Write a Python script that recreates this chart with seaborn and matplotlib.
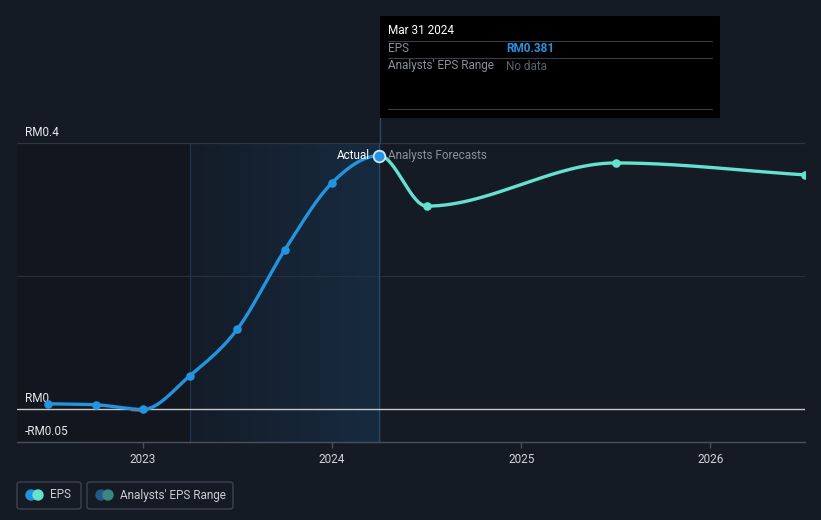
import numpy as np
import pandas as pd
import matplotlib
matplotlib.use("Agg")
import matplotlib.pyplot as plt
from matplotlib.patches import Rectangle, FancyBboxPatch, Ellipse
from matplotlib.lines import Line2D
from matplotlib.colors import LinearSegmentedColormap
import seaborn as sns

# ---------------- data ----------------
actual_dates = [2022.5, 2022.75, 2023.0, 2023.25, 2023.5, 2023.75, 2024.0, 2024.25]
actual_eps = [0.0075, 0.006, -0.001, 0.050, 0.120, 0.239, 0.340, 0.381]
forecast_dates = [2024.25, 2024.5, 2025.5, 2026.5]
forecast_eps = [0.381, 0.305, 0.370, 0.352]
year_ticks = [2023, 2024, 2025, 2026]
year_labels = ["2023", "2024", "2025", "2026"]
y_ticks = [0.4, 0.0, -0.05]
y_labels = ["RM0.4", "RM0", "-RM0.05"]

BG = "#151b25"
BLUE = "#2394df"
TEAL = "#64e1cf"

sns.set_style("dark")
plt.rcParams["font.family"] = ["Roboto", "DejaVu Sans"]


def monotone(x, y, n=60):
    """Monotone cubic (d3 curveMonotoneX style) path through the points."""
    x = np.asarray(x, float)
    y = np.asarray(y, float)
    h = np.diff(x)
    d = np.diff(y) / h
    m = np.zeros_like(y)
    m[0], m[-1] = d[0], d[-1]
    for i in range(1, len(y) - 1):
        s0, s1 = d[i - 1], d[i]
        p = (s0 * h[i] + s1 * h[i - 1]) / (h[i - 1] + h[i])
        m[i] = (np.sign(s0) + np.sign(s1)) * min(abs(s0), abs(s1), 0.5 * abs(p))
    xs, ys = [], []
    for i in range(len(h)):
        t = np.linspace(0, 1, n, endpoint=(i == len(h) - 1))
        h00 = 2 * t**3 - 3 * t**2 + 1
        h10 = t**3 - 2 * t**2 + t
        h01 = -2 * t**3 + 3 * t**2
        h11 = t**3 - t**2
        xs.append(x[i] + t * h[i])
        ys.append(h00 * y[i] + h10 * h[i] * m[i] + h01 * y[i + 1] + h11 * h[i] * m[i + 1])
    return np.concatenate(xs), np.concatenate(ys)


W, H = 821, 520
fig = plt.figure(figsize=(W / 100, H / 100), dpi=100)
fig.patch.set_facecolor(BG)

x0, x1 = 17, 805
ytop, ybot = 143, 442
ax = fig.add_axes([x0 / W, (H - ybot) / H, (x1 - x0) / W, (ybot - ytop) / H])
ax.set_facecolor(BG)
xmin, xmax = 2022.335, 2026.5
for s in ax.spines.values():
    s.set_visible(False)

# past region and highlight band
ax.axvspan(xmin, actual_dates[3], color="#12161e", zorder=0, lw=0)
grad = np.linspace(0, 1, 256).reshape(1, -1)
cmap = LinearSegmentedColormap.from_list("band", ["#141c28", "#172b40"])
ax.imshow(grad, extent=[actual_dates[3], actual_dates[-1], -0.05, 0.4],
          aspect="auto", cmap=cmap, zorder=0.5)
ax.axvline(actual_dates[3], color="#1f3a58", lw=0.8, zorder=0.6)
ax.set_xlim(xmin, xmax)
ax.set_ylim(-0.05, 0.4)

# grid
ax.axhline(0.4, color="#2e3440", lw=0.9, zorder=1)
ax.axhline(0.2, color="#2a303b", lw=0.8, zorder=1)
ax.axhline(0.0, color="#c8c8c8", lw=1.0, zorder=1.5)
ax.axhline(-0.05, color="#4a505c", lw=1.0, zorder=1, clip_on=False)

# hover line
ax.axvline(actual_dates[-1], color="#2a4866", lw=1.0, zorder=1.2)
fig.add_artist(Line2D([380 / W, 380 / W], [(H - 143) / H, (H - 118) / H],
                      color="#2a4866", lw=1.0))

# curves (one continuous smooth path, split at the last actual point)
all_x = actual_dates + forecast_dates[1:]
all_y = actual_eps + forecast_eps[1:]
cx, cy = monotone(all_x, all_y)
split = actual_dates[-1]
ma = cx <= split + 1e-9
mf = cx >= split - 1e-9
df_a = pd.DataFrame({"date": cx[ma], "eps": cy[ma]})
df_f = pd.DataFrame({"date": cx[mf], "eps": cy[mf]})
neg = np.where(cy[ma] < 0, cy[ma] - 0.0022, np.nan)
ax.plot(cx[ma], neg, color="#e0353b", lw=1.4, zorder=2.9, solid_capstyle="butt")
sns.lineplot(data=df_a, x="date", y="eps", ax=ax, color=BLUE, lw=2.4, zorder=3,
             sort=False, estimator=None)
sns.lineplot(data=df_f, x="date", y="eps", ax=ax, color=TEAL, lw=2.4, zorder=3,
             sort=False, estimator=None)
pa = pd.DataFrame({"date": actual_dates[:-1], "eps": actual_eps[:-1]})
pf = pd.DataFrame({"date": forecast_dates[1:], "eps": forecast_eps[1:]})
sns.scatterplot(data=pa, x="date", y="eps", ax=ax, color=BLUE, s=38, lw=0, zorder=4)
sns.scatterplot(data=pf, x="date", y="eps", ax=ax, color=TEAL, s=38, lw=0, zorder=4)
ax.scatter([actual_dates[-1]], [actual_eps[-1]], s=70, color=BLUE,
           edgecolor="#cfe6f7", lw=1.3, zorder=5)

ax.annotate("Actual", (actual_dates[-1], actual_eps[-1]), xytext=(-7, 0),
            textcoords="offset points", ha="right", va="center",
            color="#ffffff", fontsize=8.5, zorder=6)
ax.annotate("Analysts Forecasts", (actual_dates[-1], actual_eps[-1]), xytext=(6, 0),
            textcoords="offset points", ha="left", va="center",
            color="#8a9099", fontsize=8.5, zorder=6)

# y labels
for v, lab in zip(y_ticks, y_labels):
    ax.annotate(lab, (0.01, v), xycoords=("axes fraction", "data"), xytext=(0, 3),
                textcoords="offset points", ha="left", va="bottom",
                color="#e6e8eb", fontsize=8.5, annotation_clip=False)

ax.set_yticks([])
ax.set_xticks(year_ticks)
ax.set_xticklabels(year_labels)
ax.tick_params(axis="x", colors="#4a505c", length=4, width=1, labelcolor="#d0d3d8",
               labelsize=8.5, pad=4, bottom=True)
ax.set_xlabel("")
ax.set_ylabel("")
ax.grid(False)
leg = ax.get_legend()
if leg:
    leg.remove()

# tooltip
fig.add_artist(Rectangle((380 / W, (H - 118) / H), 340 / W, 102 / H,
                         facecolor="#000000", edgecolor="none"))
fig.text(388 / W, (H - 31) / H, "Mar 31 2024", color="#ffffff", fontsize=8.5, va="center")
for yy in [41, 58, 109]:
    fig.add_artist(Line2D([388 / W, 712 / W], [(H - yy) / H] * 2, color="#3a3d44", lw=0.8))
fig.text(388 / W, (H - 49) / H, "EPS", color="#8a8f98", fontsize=8.5, va="center")
fig.text(506 / W, (H - 49) / H, "RM0.381", color=BLUE, fontsize=8.5, va="center",
         fontweight="bold")
fig.text(388 / W, (H - 66) / H, "Analysts' EPS Range", color="#8a8f98", fontsize=8.5,
         va="center")
fig.text(506 / W, (H - 66) / H, "No data", color="#5d626b", fontsize=8.5, va="center")


# legend boxes
def legbox(xl, xr, c1, c2, label):
    fig.add_artist(FancyBboxPatch((xl / W, (H - 509) / H), (xr - xl) / W, 27 / H,
                                  boxstyle="round,pad=0,rounding_size=0.004",
                                  facecolor="none", edgecolor="#3c424e", lw=1.0))
    cyy = 495
    for ccx, c in [(xl + 14, c1), (xl + 21, c2)]:
        fig.add_artist(Ellipse((ccx / W, (H - cyy) / H), 10 / W, 10 / H,
                               color=c, transform=fig.transFigure))
    fig.text((xl + 33) / W, (H - cyy) / H, label, color="#c9ccd1", fontsize=8.5,
             va="center")


legbox(17, 81, BLUE, TEAL, "EPS")
legbox(87, 233, "#1f5a8c", "#3c8580", "Analysts' EPS Range")

fig.savefig("out.png", dpi=100, facecolor=BG)
